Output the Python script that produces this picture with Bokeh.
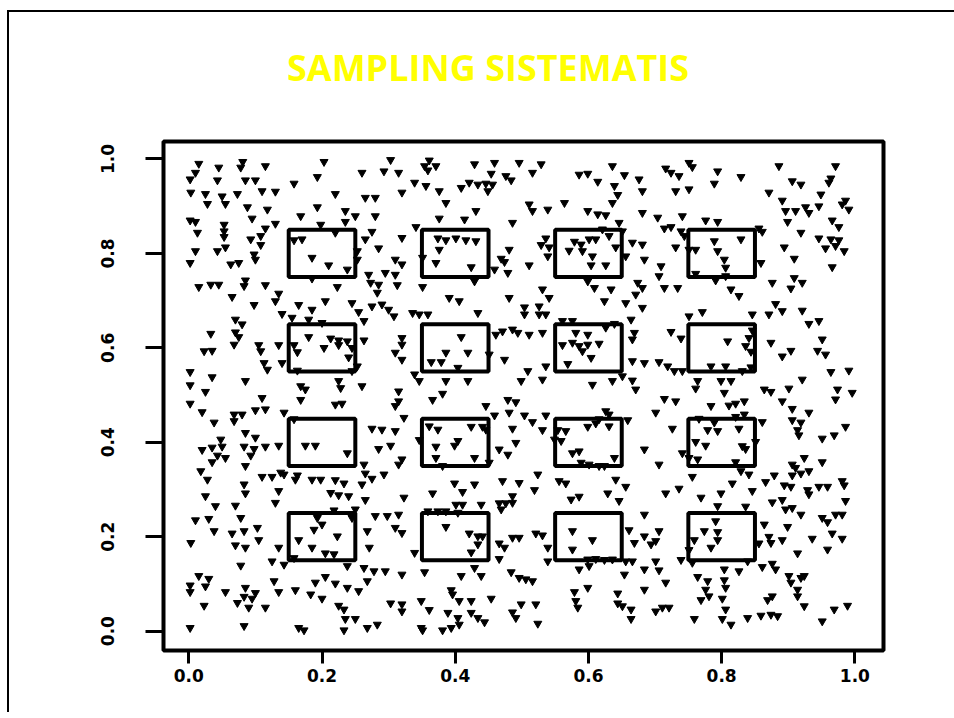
from bokeh.plotting import figure
from bokeh.models import FixedTicker, Range1d, PrintfTickFormatter, Div
from bokeh.layouts import column
from bokeh.embed import file_html
from bokeh.resources import INLINE

title_text = "SAMPLING SISTEMATIS"
tick_values = [0.0, 0.2, 0.4, 0.6, 0.8, 1.0]
box_starts = [0.15, 0.35, 0.55, 0.75]
box_size = 0.10

pts_nw = [(0.303,0.998),(0.015,0.990),(0.081,0.994),(0.115,0.985),(0.045,0.982),(0.078,0.982),(0.203,0.994),
(0.010,0.971),(0.260,0.971),(0.293,0.974),(0.315,0.971),(0.002,0.957),(0.043,0.955),(0.085,0.955),(0.100,0.955),
(0.193,0.962),(0.158,0.948),(0.003,0.929),(0.025,0.926),(0.050,0.921),(0.073,0.926),(0.110,0.932),(0.130,0.931),
(0.220,0.926),(0.265,0.918),(0.280,0.918),(0.320,0.929),(0.028,0.905),(0.055,0.905),(0.088,0.898),(0.118,0.893),
(0.193,0.898),(0.235,0.890),(0.250,0.879),(0.280,0.879),(0.168,0.879),(0.095,0.874),(0.002,0.870),(0.010,0.867),
(0.053,0.861),(0.130,0.863),(0.115,0.853),(0.198,0.861),(0.235,0.867),(0.220,0.844),(0.013,0.844),(0.053,0.847),
(0.053,0.835),(0.275,0.846),(0.265,0.830),(0.320,0.833),(0.093,0.830),(0.108,0.837),(0.158,0.828),(0.170,0.830),
(0.108,0.818),(0.010,0.805),(0.043,0.805),(0.055,0.813),(0.285,0.811),(0.098,0.798),(0.100,0.787),(0.310,0.787),
(0.320,0.777),(0.002,0.780),(0.063,0.777),(0.075,0.780),(0.185,0.791),(0.210,0.775),(0.238,0.766),(0.253,0.805),
(0.253,0.787),(0.270,0.755),(0.295,0.759),(0.310,0.755),(0.015,0.729),(0.033,0.734),(0.045,0.734),(0.085,0.743),
(0.083,0.731),(0.115,0.733),(0.223,0.729),(0.273,0.738),(0.285,0.734),(0.313,0.733),(0.283,0.717),(0.185,0.747),
(0.135,0.715),(0.065,0.708),(0.130,0.699),(0.098,0.691),(0.165,0.691),(0.185,0.681),(0.205,0.699),(0.245,0.695),
(0.275,0.688),(0.290,0.692),(0.300,0.681),(0.255,0.676),(0.308,0.667),(0.140,0.672),(0.155,0.664),(0.180,0.660),
(0.070,0.660),(0.080,0.650),(0.200,0.653),(0.263,0.657),(0.033,0.630),(0.070,0.633),(0.075,0.623),(0.180,0.623),
(0.213,0.620),(0.225,0.616),(0.238,0.614),(0.263,0.616),(0.320,0.621),(0.068,0.607),(0.105,0.606),(0.135,0.606),
(0.158,0.606),(0.163,0.591),(0.203,0.600),(0.225,0.606),(0.245,0.600),(0.320,0.607),(0.023,0.593),(0.035,0.594),
(0.108,0.593),(0.310,0.590),(0.320,0.575),(0.240,0.580),(0.113,0.568),(0.118,0.554),(0.140,0.568),(0.253,0.561),
(0.163,0.552),(0.245,0.551),(0.002,0.549),(0.035,0.538),(0.085,0.530),(0.002,0.521),(0.168,0.519),(0.175,0.512),
(0.225,0.530),(0.228,0.515),(0.260,0.519),(0.025,0.507),(0.315,0.508)]

pts_n = [(0.361,0.997),(0.354,0.985),(0.359,0.976),(0.371,0.985),(0.429,0.989),(0.459,0.992),(0.496,0.992),(0.529,0.989),
(0.636,0.985),(0.454,0.969),(0.476,0.964),(0.484,0.955),(0.516,0.971),(0.586,0.967),(0.599,0.969),(0.654,0.966),
(0.676,0.957),(0.339,0.950),(0.356,0.943),(0.376,0.932),(0.409,0.939),(0.421,0.950),(0.434,0.946),(0.446,0.948),
(0.449,0.932),(0.456,0.946),(0.614,0.952),(0.639,0.943),(0.644,0.924),(0.681,0.932),(0.386,0.907),(0.431,0.890),
(0.511,0.904),(0.516,0.890),(0.539,0.893),(0.564,0.907),(0.636,0.907),(0.376,0.874),(0.414,0.872),(0.486,0.865),
(0.599,0.890),(0.614,0.883),(0.626,0.881),(0.646,0.865),(0.681,0.886),(0.341,0.856),(0.621,0.851),(0.631,0.837),
(0.651,0.847),(0.374,0.832),(0.386,0.828),(0.401,0.832),(0.416,0.828),(0.431,0.826),(0.376,0.808),(0.536,0.832),
(0.529,0.818),(0.541,0.813),(0.579,0.825),(0.589,0.819),(0.601,0.830),(0.611,0.830),(0.571,0.806),(0.591,0.805),
(0.606,0.794),(0.641,0.813),(0.666,0.823),(0.681,0.819),(0.481,0.808),(0.351,0.791),(0.371,0.780),(0.424,0.771),
(0.469,0.789),(0.474,0.782),(0.511,0.775),(0.539,0.794),(0.604,0.775),(0.626,0.775),(0.656,0.794),(0.684,0.787),
(0.459,0.766),(0.479,0.759),(0.429,0.741),(0.599,0.741),(0.674,0.738),(0.681,0.727),(0.351,0.729),(0.531,0.724),
(0.391,0.706),(0.406,0.699),(0.481,0.706),(0.541,0.706),(0.609,0.727),(0.634,0.724),(0.656,0.695),(0.671,0.713),
(0.624,0.699),(0.336,0.674),(0.346,0.671),(0.359,0.671),(0.434,0.674),(0.504,0.686),(0.526,0.688),(0.504,0.671),
(0.526,0.671),(0.536,0.671),(0.561,0.657),(0.576,0.657),(0.664,0.660),(0.681,0.685),(0.409,0.623),(0.461,0.628),
(0.471,0.635),(0.486,0.639),(0.494,0.632),(0.511,0.628),(0.531,0.632),(0.581,0.632),(0.599,0.628),(0.626,0.643),
(0.639,0.651),(0.669,0.632),(0.666,0.618),(0.561,0.606),(0.576,0.611),(0.586,0.604),(0.599,0.607),(0.616,0.609),
(0.591,0.593),(0.604,0.579),(0.386,0.590),(0.419,0.590),(0.451,0.586),(0.474,0.575),(0.364,0.570),(0.379,0.570),
(0.404,0.558),(0.536,0.561),(0.569,0.566),(0.666,0.572),(0.684,0.568),(0.339,0.544),(0.346,0.530),(0.386,0.530),
(0.419,0.530),(0.499,0.530),(0.531,0.533),(0.509,0.551),(0.606,0.522),(0.636,0.530),(0.651,0.540),(0.666,0.531),
(0.671,0.512),(0.381,0.503)]

pts_ne = [(0.751,0.992),(0.756,0.983),(0.716,0.980),(0.724,0.971),(0.736,0.964),(0.794,0.974),(0.829,0.962),(0.886,0.985),
(0.971,0.985),(0.789,0.948),(0.731,0.932),(0.751,0.936),(0.906,0.953),(0.919,0.946),(0.964,0.959),(0.961,0.950),
(0.871,0.929),(0.949,0.925),(0.986,0.912),(0.981,0.904),(0.991,0.893),(0.891,0.912),(0.896,0.890),(0.911,0.890),
(0.926,0.898),(0.931,0.886),(0.946,0.900),(0.704,0.876),(0.741,0.879),(0.776,0.870),(0.794,0.867),(0.899,0.867),
(0.966,0.870),(0.976,0.856),(0.714,0.853),(0.724,0.856),(0.739,0.847),(0.744,0.837),(0.856,0.853),(0.861,0.846),
(0.919,0.844),(0.731,0.813),(0.751,0.808),(0.761,0.808),(0.789,0.826),(0.829,0.830),(0.794,0.805),(0.804,0.787),
(0.946,0.832),(0.964,0.830),(0.976,0.828),(0.971,0.816),(0.956,0.811),(0.984,0.805),(0.894,0.813),(0.909,0.789),
(0.709,0.773),(0.706,0.752),(0.806,0.770),(0.761,0.757),(0.806,0.752),(0.791,0.743),(0.859,0.780),(0.966,0.771),
(0.714,0.727),(0.734,0.727),(0.814,0.724),(0.826,0.710),(0.876,0.738),(0.909,0.748),(0.921,0.738),(0.904,0.726),
(0.771,0.676),(0.751,0.667),(0.846,0.671),(0.871,0.671),(0.881,0.693),(0.891,0.678),(0.921,0.679),(0.931,0.651),
(0.946,0.657),(0.724,0.634),(0.739,0.620),(0.809,0.614),(0.846,0.637),(0.841,0.621),(0.836,0.604),(0.844,0.592),
(0.874,0.611),(0.904,0.594),(0.891,0.582),(0.951,0.618),(0.944,0.594),(0.956,0.586),(0.706,0.570),(0.719,0.561),
(0.729,0.551),(0.741,0.551),(0.784,0.561),(0.806,0.561),(0.831,0.551),(0.844,0.559),(0.964,0.549),(0.991,0.552),
(0.921,0.533),(0.764,0.530),(0.799,0.530),(0.814,0.530),(0.761,0.514),(0.804,0.505),(0.864,0.512),(0.874,0.507),
(0.901,0.514),(0.974,0.512),(0.996,0.505)]

pts_sw = [(0.002,0.482),(0.110,0.494),(0.168,0.490),(0.220,0.480),(0.230,0.482),(0.315,0.487),(0.310,0.477),(0.323,0.452),
(0.020,0.464),(0.068,0.459),(0.080,0.459),(0.100,0.468),(0.115,0.470),(0.143,0.463),(0.038,0.442),(0.068,0.445),
(0.158,0.449),(0.275,0.429),(0.290,0.427),(0.310,0.424),(0.085,0.420),(0.100,0.410),(0.048,0.406),(0.020,0.384),
(0.035,0.389),(0.050,0.391),(0.083,0.391),(0.098,0.386),(0.115,0.391),(0.135,0.393),(0.175,0.393),(0.190,0.393),
(0.238,0.377),(0.285,0.386),(0.303,0.393),(0.043,0.372),(0.055,0.367),(0.093,0.372),(0.035,0.358),(0.085,0.350),
(0.263,0.353),(0.320,0.364),(0.315,0.353),(0.018,0.339),(0.028,0.321),(0.110,0.327),(0.125,0.327),(0.138,0.336),
(0.143,0.332),(0.163,0.330),(0.160,0.321),(0.185,0.321),(0.198,0.321),(0.220,0.320),(0.233,0.313),(0.260,0.311),
(0.265,0.334),(0.275,0.323),(0.293,0.332),(0.083,0.311),(0.025,0.286),(0.085,0.292),(0.135,0.297),(0.130,0.272),
(0.040,0.265),(0.070,0.266),(0.213,0.293),(0.225,0.288),(0.240,0.286),(0.265,0.278),(0.323,0.283),(0.218,0.256),
(0.250,0.258),(0.280,0.244),(0.298,0.244),(0.315,0.247),(0.193,0.240),(0.245,0.240),(0.010,0.235),(0.030,0.238),
(0.078,0.240),(0.200,0.226),(0.188,0.215),(0.310,0.219),(0.320,0.208),(0.268,0.212),(0.038,0.212),(0.065,0.207),
(0.083,0.212),(0.103,0.219),(0.223,0.201),(0.165,0.193),(0.185,0.177),(0.205,0.165),(0.218,0.163),(0.271,0.177),
(0.105,0.193),(0.135,0.177),(0.003,0.187),(0.070,0.182),(0.085,0.177),(0.125,0.148),(0.143,0.141),(0.158,0.155),
(0.238,0.138),(0.263,0.134),(0.278,0.127),(0.295,0.127),(0.320,0.120),(0.078,0.139),(0.015,0.117),(0.030,0.111),
(0.002,0.097),(0.025,0.095),(0.002,0.083),(0.128,0.106),(0.190,0.103),(0.205,0.115),(0.220,0.101),(0.268,0.106),
(0.238,0.092),(0.255,0.085),(0.055,0.083),(0.085,0.092),(0.100,0.081),(0.135,0.083),(0.160,0.087),(0.183,0.078),
(0.200,0.069),(0.083,0.073),(0.095,0.069),(0.073,0.060),(0.090,0.050),(0.115,0.050),(0.023,0.054),(0.225,0.054),
(0.233,0.046),(0.303,0.059),(0.320,0.057),(0.320,0.042),(0.235,0.026),(0.250,0.026),(0.283,0.014),(0.268,0.007),
(0.002,0.007),(0.083,0.011),(0.165,0.007),(0.173,0.002),(0.233,0.002)]

pts_s = [(0.366,0.490),(0.446,0.477),(0.479,0.490),(0.491,0.485),(0.459,0.457),(0.481,0.463),(0.504,0.457),(0.516,0.443),
(0.536,0.457),(0.626,0.466),(0.631,0.459),(0.616,0.449),(0.611,0.440),(0.659,0.447),(0.361,0.434),(0.374,0.427),
(0.424,0.433),(0.441,0.433),(0.446,0.427),(0.486,0.429),(0.531,0.426),(0.554,0.426),(0.566,0.424),(0.599,0.433),
(0.631,0.434),(0.346,0.405),(0.371,0.391),(0.399,0.393),(0.404,0.403),(0.491,0.399),(0.466,0.385),(0.479,0.374),
(0.549,0.406),(0.559,0.403),(0.576,0.377),(0.586,0.381),(0.684,0.385),(0.371,0.367),(0.429,0.367),(0.451,0.357),
(0.381,0.350),(0.589,0.357),(0.601,0.353),(0.616,0.350),(0.624,0.350),(0.639,0.367),(0.524,0.332),(0.399,0.313),
(0.429,0.311),(0.471,0.318),(0.496,0.314),(0.519,0.299),(0.556,0.318),(0.566,0.313),(0.641,0.321),(0.656,0.306),
(0.366,0.292),(0.411,0.295),(0.486,0.286),(0.574,0.279),(0.586,0.285),(0.629,0.292),(0.646,0.276),(0.401,0.268),
(0.411,0.268),(0.439,0.268),(0.466,0.271),(0.476,0.271),(0.486,0.272),(0.469,0.258),(0.404,0.251),(0.359,0.254),
(0.374,0.254),(0.386,0.254),(0.684,0.247),(0.386,0.221),(0.421,0.207),(0.434,0.201),(0.441,0.201),(0.434,0.184),
(0.424,0.167),(0.466,0.186),(0.474,0.177),(0.486,0.198),(0.496,0.198),(0.521,0.207),(0.531,0.203),(0.539,0.177),
(0.576,0.212),(0.606,0.193),(0.576,0.173),(0.661,0.214),(0.669,0.187),(0.684,0.201),(0.339,0.166),(0.466,0.153),
(0.539,0.148),(0.599,0.152),(0.611,0.153),(0.624,0.151),(0.636,0.152),(0.656,0.148),(0.666,0.148),(0.354,0.125),
(0.409,0.117),(0.429,0.134),(0.439,0.117),(0.484,0.125),(0.496,0.113),(0.506,0.110),(0.516,0.106),(0.586,0.131),
(0.601,0.138),(0.654,0.120),(0.684,0.131),(0.394,0.087),(0.396,0.078),(0.406,0.064),(0.424,0.064),(0.454,0.069),
(0.599,0.092),(0.579,0.083),(0.581,0.064),(0.584,0.050),(0.644,0.080),(0.644,0.059),(0.651,0.053),(0.664,0.046),
(0.664,0.026),(0.684,0.088),(0.349,0.064),(0.361,0.045),(0.389,0.039),(0.404,0.028),(0.406,0.014),(0.424,0.039),
(0.434,0.028),(0.444,0.019),(0.486,0.040),(0.491,0.028),(0.499,0.057),(0.521,0.057),(0.524,0.016),(0.349,0.007),
(0.351,0.002),(0.381,0.002),(0.394,0.007)]

pts_se = [(0.714,0.492),(0.731,0.487),(0.784,0.477),(0.811,0.478),(0.821,0.482),(0.834,0.487),(0.891,0.487),(0.906,0.471),
(0.931,0.463),(0.971,0.491),(0.701,0.463),(0.766,0.450),(0.789,0.442),(0.821,0.454),(0.834,0.459),(0.826,0.429),
(0.861,0.443),(0.906,0.447),(0.919,0.442),(0.914,0.426),(0.916,0.415),(0.951,0.408),(0.969,0.415),(0.986,0.433),
(0.726,0.429),(0.779,0.426),(0.794,0.424),(0.761,0.401),(0.776,0.393),(0.831,0.392),(0.836,0.386),(0.851,0.401),
(0.741,0.377),(0.751,0.367),(0.764,0.364),(0.706,0.353),(0.821,0.358),(0.906,0.353),(0.911,0.346),(0.924,0.367),
(0.951,0.358),(0.756,0.327),(0.829,0.339),(0.841,0.332),(0.879,0.330),(0.906,0.330),(0.919,0.334),(0.931,0.339),
(0.816,0.313),(0.846,0.297),(0.866,0.316),(0.894,0.309),(0.904,0.306),(0.929,0.299),(0.931,0.290),(0.946,0.306),
(0.959,0.306),(0.981,0.318),(0.984,0.309),(0.986,0.276),(0.716,0.292),(0.736,0.302),(0.769,0.283),(0.799,0.292),
(0.794,0.265),(0.836,0.264),(0.876,0.273),(0.891,0.278),(0.896,0.258),(0.906,0.261),(0.919,0.247),(0.951,0.240),
(0.959,0.231),(0.971,0.247),(0.981,0.247),(0.791,0.233),(0.774,0.212),(0.794,0.210),(0.864,0.226),(0.899,0.221),
(0.759,0.193),(0.794,0.193),(0.784,0.177),(0.751,0.172),(0.701,0.191),(0.694,0.184),(0.706,0.212),(0.856,0.186),
(0.871,0.200),(0.874,0.187),(0.891,0.193),(0.936,0.196),(0.966,0.207),(0.981,0.196),(0.959,0.173),(0.914,0.165),
(0.701,0.148),(0.706,0.129),(0.739,0.151),(0.756,0.145),(0.804,0.131),(0.826,0.127),(0.839,0.148),(0.861,0.136),
(0.876,0.143),(0.881,0.131),(0.901,0.117),(0.919,0.113),(0.904,0.103),(0.924,0.117),(0.914,0.088),(0.914,0.074),
(0.924,0.053),(0.764,0.115),(0.779,0.106),(0.804,0.108),(0.806,0.092),(0.716,0.103),(0.776,0.088),(0.781,0.074),
(0.801,0.069),(0.769,0.066),(0.876,0.074),(0.869,0.066),(0.701,0.042),(0.711,0.050),(0.721,0.050),(0.806,0.046),
(0.969,0.046),(0.989,0.054),(0.759,0.026),(0.801,0.026),(0.814,0.014),(0.839,0.028),(0.859,0.033),(0.874,0.035),
(0.884,0.032),(0.951,0.021)]

all_pts = pts_nw + pts_n + pts_ne + pts_sw + pts_s + pts_se
xs = [p[0] for p in all_pts]
ys = [p[1] for p in all_pts]

title_div = Div(text=title_text, width=945, height=102,
                styles={"font-family": "Open Sans", "font-weight": "bold",
                        "font-size": "36px", "color": "#FFFF00",
                        "line-height": "102px", "text-indent": "273px",
                        "white-space": "nowrap", "background-color": "white"})

p = figure(width=945, height=588,
           x_range=Range1d(-0.038, 1.043), y_range=Range1d(-0.041, 1.037),
           output_backend="svg", toolbar_location=None,
           min_border_left=154, min_border_right=71,
           min_border_top=17, min_border_bottom=62)
p.background_fill_color = "white"
p.border_fill_color = "white"
p.xgrid.visible = False
p.ygrid.visible = False
p.outline_line_color = "black"
p.outline_line_width = 4
p.outline_line_alpha = 1.0

for ax in (p.xaxis[0], p.yaxis[0]):
    ax.ticker = FixedTicker(ticks=tick_values)
    ax.formatter = PrintfTickFormatter(format="%.1f")
    ax.axis_line_color = None
    ax.major_tick_line_width = 3
    ax.major_tick_line_color = "black"
    ax.major_tick_in = 0
    ax.minor_tick_line_color = None
    ax.major_label_text_font = "DejaVu Sans"
    ax.major_label_text_font_style = "bold"
    ax.major_label_text_font_size = "17px"
    ax.major_label_text_color = "black"

p.xaxis[0].major_tick_out = 13
p.xaxis[0].major_label_standoff = 5
p.yaxis[0].major_tick_out = 18
p.yaxis[0].major_label_standoff = 31
p.yaxis[0].major_label_orientation = "vertical"

p.scatter(xs, ys, marker="inverted_triangle", size=8, color="black")

lefts, rights, bottoms, tops = [], [], [], []
for bx in box_starts:
    for by in box_starts:
        lefts.append(bx)
        rights.append(bx + box_size)
        bottoms.append(by)
        tops.append(by + box_size)
p.quad(left=lefts, right=rights, bottom=bottoms, top=tops,
       fill_color=None, line_color="black", line_width=4)

page = column(title_div, p, spacing=0,
              styles={"border-top": "2px solid black", "border-left": "2px solid black",
                      "margin-top": "10px", "margin-left": "7px"})

open("out.html", "w").write(file_html(page, INLINE))
